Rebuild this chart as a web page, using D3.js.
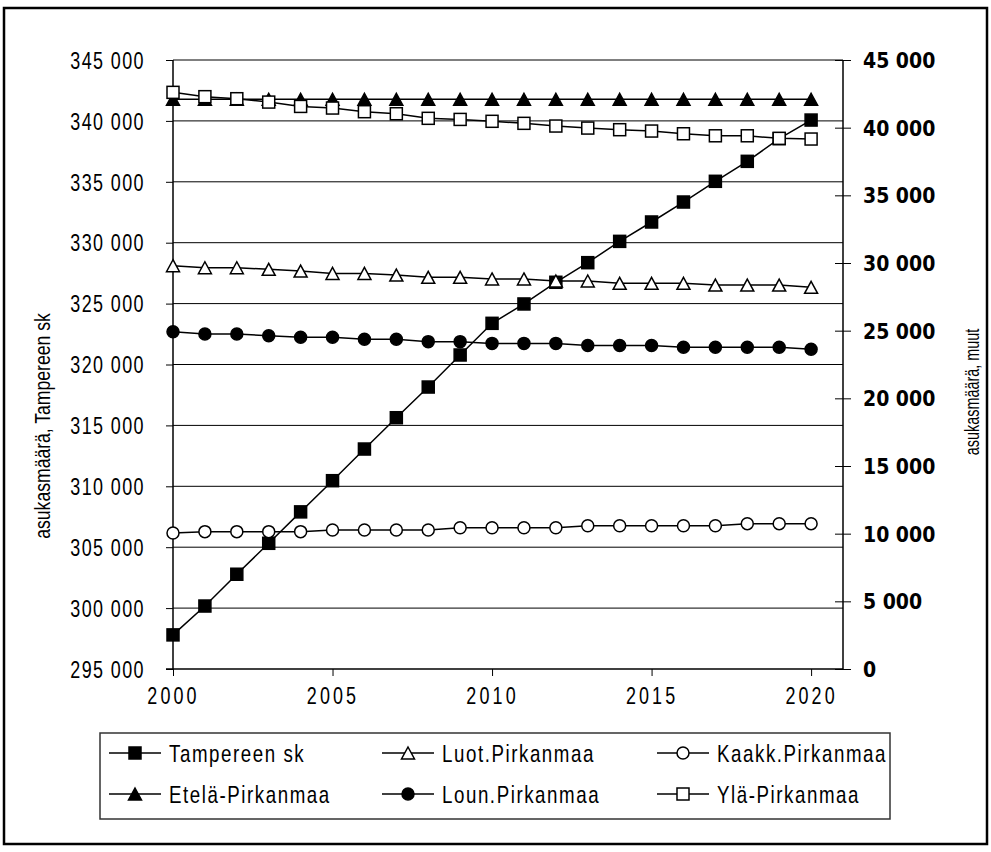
<!DOCTYPE html>
<html>
<head>
<meta charset="utf-8">
<script src="https://cdn.jsdelivr.net/npm/d3@7"></script>
<style>
  html, body { margin: 0; padding: 0; background: #fff; }
  svg { display: block; }
  .narrow { font-family: "Liberation Sans", Arial, sans-serif; }
  .boldc { font-family: "DejaVu Sans Condensed", "DejaVu Sans", sans-serif; font-stretch: condensed; font-weight: bold; }
</style>
</head>
<body>
<svg id="chart" width="991" height="852"></svg>
<script>
// ---------------- DATA ----------------
const years = [2000, 2001, 2002, 2003, 2004, 2005, 2006, 2007, 2008, 2009, 2010,
               2011, 2012, 2013, 2014, 2015, 2016, 2017, 2018, 2019, 2020];

// left axis
const tampereenSk = [297800, 300170, 302780, 305320, 307900, 310460, 313060, 315630, 318150, 320780, 323380,
                     324970, 326750, 328360, 330110, 331700, 333340, 335040, 336680, 338540, 340070];
// right axis
const luotPirkanmaa = [29800, 29650, 29650, 29530, 29400, 29230, 29230, 29110, 28940, 28940, 28820,
                       28820, 28670, 28670, 28500, 28500, 28500, 28370, 28370, 28370, 28200];
const kaakkPirkanmaa = [10050, 10150, 10150, 10150, 10150, 10270, 10270, 10270, 10270, 10440, 10440,
                        10440, 10440, 10590, 10590, 10590, 10590, 10590, 10740, 10740, 10740];
const etelaPirkanmaa = [42100, 42100, 42100, 42100, 42100, 42100, 42100, 42100, 42100, 42100, 42100,
                        42100, 42100, 42100, 42100, 42100, 42100, 42100, 42100, 42100, 42100];
const lounPirkanmaa = [24920, 24750, 24750, 24630, 24510, 24510, 24360, 24360, 24190, 24190, 24060,
                       24060, 24060, 23910, 23910, 23910, 23770, 23770, 23770, 23770, 23620];
const ylaPirkanmaa = [42610, 42290, 42140, 41890, 41570, 41450, 41180, 41030, 40690, 40610, 40470,
                      40320, 40120, 39970, 39850, 39750, 39550, 39400, 39400, 39210, 39160];

const seriesNames = ["Tampereen sk", "Luot.Pirkanmaa", "Kaakk.Pirkanmaa",
                     "Etelä-Pirkanmaa", "Loun.Pirkanmaa", "Ylä-Pirkanmaa"];

const leftTicks = [295000, 300000, 305000, 310000, 315000, 320000, 325000, 330000, 335000, 340000, 345000];
const rightTicks = [0, 5000, 10000, 15000, 20000, 25000, 30000, 35000, 40000, 45000];
const xTicks = [2000, 2005, 2010, 2015, 2020];
const leftTitle = "asukasmäärä, Tampereen sk";
const rightTitle = "asukasmäärä, muut";

// ---------------- CHART ----------------
const svg = d3.select("#chart");
const L = 173, R = 843, T = 60, B = 669;
const SX = 0.78; // horizontal condensing of the narrow text

const x = d3.scaleLinear().domain([2000, 2021]).range([L, R]);
const yL = d3.scaleLinear().domain([295000, 345000]).range([B, T]);
const yR = d3.scaleLinear().domain([0, 45000]).range([B, T]);
const fmt = v => d3.format(",")(v).replace(/,/g, " ");

function condense(sel, sx) {
  sel.each(function () {
    const t = d3.select(this);
    const tx = +t.attr("x") || 0, ty = +t.attr("y") || 0;
    t.attr("x", 0).attr("y", 0).attr("transform", `translate(${tx},${ty}) scale(${sx},1)`);
  });
}

// outer border
svg.append("rect").attr("x", 4).attr("y", 8).attr("width", 983).attr("height", 836)
  .attr("fill", "none").attr("stroke", "#000").attr("stroke-width", 2.5);

// gridlines
svg.append("g").selectAll("line").data(leftTicks.slice(1)).join("line")
  .attr("x1", L).attr("x2", R).attr("y1", d => yL(d)).attr("y2", d => yL(d))
  .attr("stroke", "#000").attr("stroke-width", 1);

// left axis
const gL = svg.append("g").attr("transform", `translate(${L},0)`)
  .call(d3.axisLeft(yL).tickValues(leftTicks).tickSize(7).tickPadding(21).tickFormat(fmt));
gL.select(".domain").attr("stroke", "#000").attr("stroke-width", 1.5).attr("d", `M0,${T}V${B}`);
gL.selectAll(".tick line").attr("stroke", "#000").attr("stroke-width", 1);
gL.selectAll(".tick text").attr("class", "narrow").attr("font-size", 23).attr("letter-spacing", 1.8)
  .attr("fill", "#000").attr("dy", "0.36em").call(condense, SX);

// right axis
const gR = svg.append("g").attr("transform", `translate(${R},0)`)
  .call(d3.axisRight(yR).tickValues(rightTicks).tickSize(8).tickPadding(12).tickFormat(fmt));
gR.select(".domain").attr("stroke", "#000").attr("stroke-width", 1.5).attr("d", `M0,${T}V${B}`);
gR.selectAll(".tick line").attr("x1", -8).attr("stroke", "#000").attr("stroke-width", 1);
gR.selectAll(".tick text").attr("class", "boldc").attr("font-size", 21).attr("fill", "#000").attr("dy", "0.36em");

// x axis
const gX = svg.append("g").attr("transform", `translate(0,${B})`)
  .call(d3.axisBottom(x).tickValues(xTicks).tickSize(7).tickPadding(12).tickFormat(d3.format("d")));
gX.select(".domain").attr("stroke", "#000").attr("stroke-width", 1.5).attr("d", `M${L - 7},0H${R}`);
gX.selectAll(".tick line").attr("stroke", "#000").attr("stroke-width", 1);
gX.selectAll(".tick text").attr("class", "narrow").attr("font-size", 23).attr("letter-spacing", 4)
  .attr("fill", "#000").call(condense, SX);

// axis titles
svg.append("text").attr("class", "narrow").attr("font-size", 22).attr("fill", "#000")
  .attr("text-anchor", "middle")
  .attr("transform", `translate(50,426) rotate(-90) scale(0.8,1)`).text(leftTitle);
svg.append("text").attr("class", "narrow").attr("font-size", 20).attr("fill", "#000")
  .attr("text-anchor", "middle")
  .attr("transform", `translate(979,392) rotate(-90) scale(0.72,1)`).text(rightTitle);

// markers
const SYM = 12;
function drawMarker(g, type, cx, cy) {
  if (type === "sqFill" || type === "sqOpen") {
    g.append("rect").attr("x", cx - SYM / 2).attr("y", cy - SYM / 2).attr("width", SYM).attr("height", SYM)
      .attr("fill", type === "sqFill" ? "#000" : "#fff").attr("stroke", "#000").attr("stroke-width", 1.5);
  } else if (type === "triFill" || type === "triOpen") {
    const h = 12, w = 13;
    g.append("path").attr("d", `M${cx},${cy - h / 2}L${cx + w / 2},${cy + h / 2}L${cx - w / 2},${cy + h / 2}Z`)
      .attr("fill", type === "triFill" ? "#000" : "#fff").attr("stroke", "#000").attr("stroke-width", 1.5);
  } else {
    g.append("circle").attr("cx", cx).attr("cy", cy).attr("r", 6)
      .attr("fill", type === "cirFill" ? "#000" : "#fff").attr("stroke", "#000").attr("stroke-width", 1.5);
  }
}

const series = [
  { name: seriesNames[0], values: tampereenSk, y: yL, marker: "sqFill" },
  { name: seriesNames[1], values: luotPirkanmaa, y: yR, marker: "triOpen" },
  { name: seriesNames[2], values: kaakkPirkanmaa, y: yR, marker: "cirOpen" },
  { name: seriesNames[3], values: etelaPirkanmaa, y: yR, marker: "triFill" },
  { name: seriesNames[4], values: lounPirkanmaa, y: yR, marker: "cirFill" },
  { name: seriesNames[5], values: ylaPirkanmaa, y: yR, marker: "sqOpen" }
];

series.forEach(s => {
  const g = svg.append("g");
  const line = d3.line().x((d, i) => x(years[i])).y(d => s.y(d));
  g.append("path").attr("d", line(s.values)).attr("fill", "none").attr("stroke", "#000").attr("stroke-width", 1.5);
  s.values.forEach((v, i) => drawMarker(g, s.marker, x(years[i]), s.y(v)));
});

// legend
const lg = svg.append("g");
lg.append("rect").attr("x", 100).attr("y", 733).attr("width", 790).attr("height", 86)
  .attr("fill", "#fff").attr("stroke", "#333").attr("stroke-width", 1.5);
const colX = [109, 382, 657];
const rowY = [753, 794];
series.forEach((s, i) => {
  const cx = colX[i % 3], cy = rowY[Math.floor(i / 3)];
  lg.append("line").attr("x1", cx).attr("x2", cx + 52).attr("y1", cy).attr("y2", cy)
    .attr("stroke", "#000").attr("stroke-width", 1.5);
  drawMarker(lg, s.marker, cx + 26, cy);
  lg.append("text").attr("class", "narrow").attr("font-size", 24).attr("letter-spacing", 2)
    .attr("x", cx + 60).attr("y", cy).attr("dy", "0.36em").attr("fill", "#000").text(s.name)
    .call(condense, SX);
});
</script>
</body>
</html>
